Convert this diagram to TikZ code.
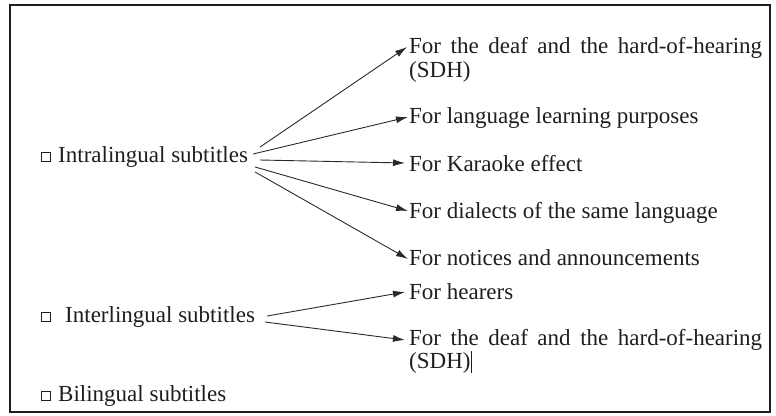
\documentclass[tikz,border=0pt]{standalone}
\usepackage{fontspec}
\setmainfont{Liberation Serif}
\usetikzlibrary{arrows.meta}
\definecolor{ink}{HTML}{1E1E1E}
\definecolor{lineink}{HTML}{2A2A2A}
\begin{document}
\begin{tikzpicture}[x=1pt,y=-1pt,
  font=\fontsize{23}{25}\selectfont,
  txt/.style={anchor=base west, inner sep=0pt, text=ink},
  sq/.style={draw=ink, line width=0.9pt, minimum size=9pt, inner sep=0pt, anchor=south west},
  arr/.style={-{Latex[length=12pt,width=7pt]}, draw=lineink, line width=0.9pt}]
\useasboundingbox (0,0) rectangle (776,415);
\draw[line width=2pt, draw=ink] (10,5) rectangle (770,412);

% left labels
\node[sq] (sq1) at (41,162) {};
\node[txt] (intra) at (58,162) {Intralingual subtitles};
\node[sq] (sq2) at (41,322) {};
\node[txt] (inter) at (65,322) {Interlingual subtitles};
\node[sq] (sq3) at (41,401) {};
\node[txt] (bil) at (58,401) {Bilingual subtitles};

% right labels
\node[txt] (sdhA) at (409,53) {\makebox[353pt][s]{For the deaf and the hard-of-hearing}};
\node[txt] (sdhAb) at (409,77) {(SDH)};
\node[txt] (lang) at (409,123) {For language learning purposes};
\node[txt] (kara) at (409,171) {For Karaoke effect};
\node[txt] (dial) at (409,218) {For dialects of the same language};
\node[txt] (noti) at (409,265) {For notices and announcements};
\node[txt] (hear) at (409,299) {For hearers};
\node[txt] (sdhB) at (409,345) {\makebox[353pt][s]{For the deaf and the hard-of-hearing}};
\node[txt] (sdhBb) at (409,368) {(SDH)\rule[-5pt]{0.9pt}{22pt}};

% connectors
\draw[arr] ([shift={(12,-15)}]intra.base east) -- ([shift={(-2,-6)}]sdhA.base west);
\draw[arr] ([shift={(5,-8)}]intra.base east) -- ([shift={(-1,-6)}]lang.base west);
\draw[arr] ([shift={(12,-2)}]intra.base east) -- ([shift={(-4,-8)}]kara.base west);
\draw[arr] ([shift={(7,5)}]intra.base east) -- ([shift={(-1,-7)}]dial.base west);
\draw[arr] ([shift={(7,10)}]intra.base east) -- ([shift={(-1,-6)}]noti.base west);
\draw[arr] ([shift={(12,-6)}]inter.base east) -- ([shift={(-4,-7)}]hear.base west);
\draw[arr] ([shift={(10,0)}]inter.base east) -- ([shift={(-4,-5)}]sdhB.base west);
\end{tikzpicture}
\end{document}
